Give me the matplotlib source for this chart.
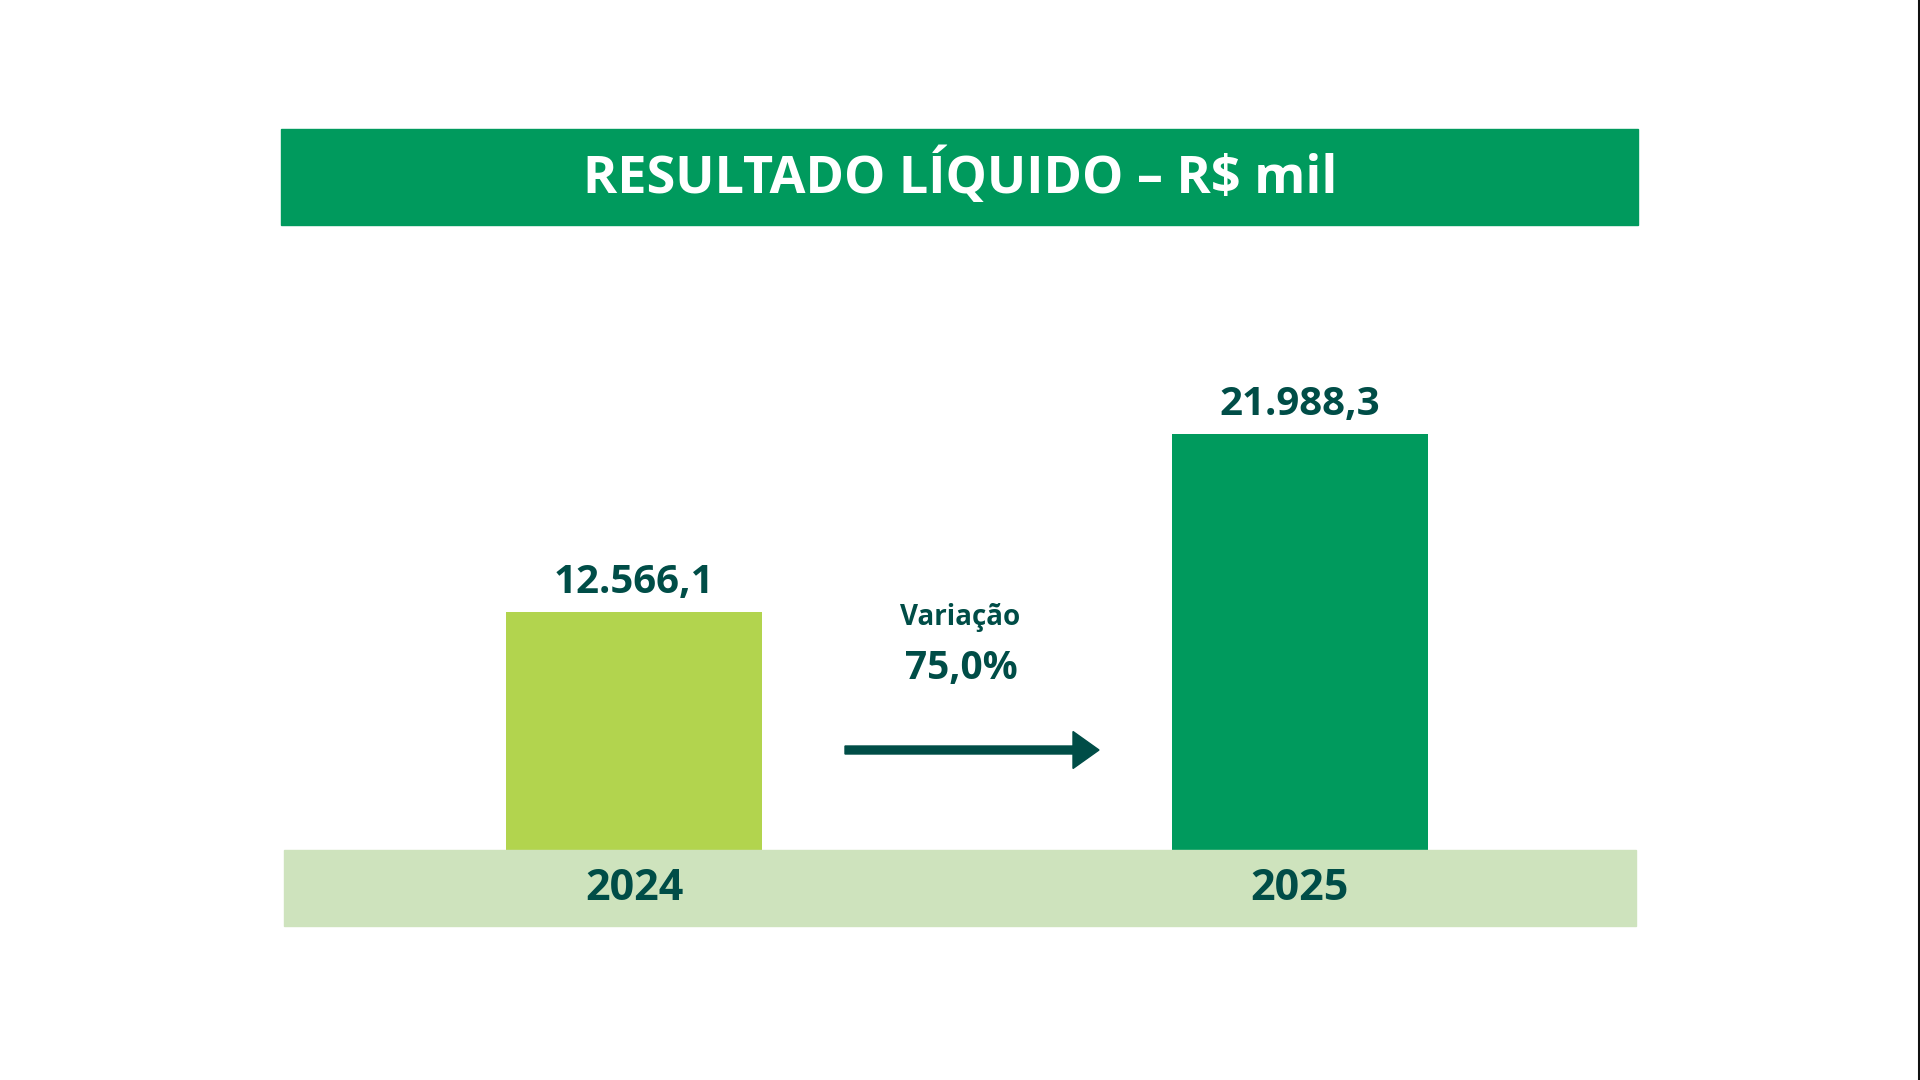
import numpy as np
import matplotlib
matplotlib.use("Agg")
import matplotlib.pyplot as plt
from matplotlib.patches import Rectangle, FancyArrow
from matplotlib.lines import Line2D

# data
anos = ["2024", "2025"]
valores = [12566.1, 21988.3]
rotulos = ["12.566,1", "21.988,3"]
variacao = "75,0%"
titulo = "RESULTADO LÍQUIDO – R$ mil"

# cores
verde = "#009A5D"
verde_claro = "#B2D44E"
faixa = "#CEE3BD"
texto = "#004D47"

plt.rcParams['font.family'] = ['Open Sans', 'DejaVu Sans']

W, H = 1920, 1080
fig = plt.figure(figsize=(19.2, 10.8), dpi=100)
fig.patch.set_facecolor("white")

def fx(px):
    return px / W

def fy(py):
    # py measured from top
    return 1 - py / H

# title band
fig.patches.append(Rectangle((fx(281), fy(225)), fx(1638 - 281), (225 - 129) / H,
                             transform=fig.transFigure, color=verde, zorder=0))
fig.text(fx(960), fy(177), titulo, color="white", fontsize=37.5, fontweight="bold",
         ha="center", va="center")

# bottom band with years
fig.patches.append(Rectangle((fx(284), fy(926)), fx(1636 - 284), (926 - 850) / H,
                             transform=fig.transFigure, color=faixa, zorder=0))

# bars axes: baseline at py=850, top at py=300
ax = fig.add_axes([fx(284), fy(850), fx(1352), (850 - 300) / H])
ax.set_facecolor("none")
x = np.arange(len(anos))
escala = 416 / valores[1]  # px per unit
ax.set_ylim(0, 550 / escala)
ax.set_xlim(-350 / 666, (1352 - 350) / 666)
ax.bar(x, valores, width=256 / 666, color=[verde_claro, verde])
for xi, v, r in zip(x, valores, rotulos):
    ax.annotate(r, (xi, v), xytext=(0, 7.5), textcoords="offset points",
                ha="center", va="bottom", fontsize=29, fontweight="bold", color=texto)
ax.axis("off")

for xi, ano in zip(x, anos):
    xf = fig.transFigure.inverted().transform(ax.transData.transform((xi, 0)))[0]
    fig.text(xf, fy(888), ano, ha="center", va="center", fontsize=31,
             fontweight="bold", color=texto)

# variation text and arrow
fig.text(fx(960), fy(618), "Variação", ha="center", va="center", fontsize=20,
         fontweight="bold", color=texto)
fig.text(fx(961), fy(668), variacao, ha="center", va="center", fontsize=28,
         fontweight="bold", color=texto)
arrow = FancyArrow(fx(845), fy(750), fx(1099 - 845), 0, width=8 / H,
                   head_width=37 / H, head_length=fx(26),
                   length_includes_head=True, transform=fig.transFigure,
                   color=texto)
fig.patches.append(arrow)

# right edge line
fig.add_artist(Line2D([fx(1918.5), fx(1918.5)], [0, 1], transform=fig.transFigure,
                      color="#111111", linewidth=2.2))

fig.savefig("out.png", dpi=100, facecolor="white")
